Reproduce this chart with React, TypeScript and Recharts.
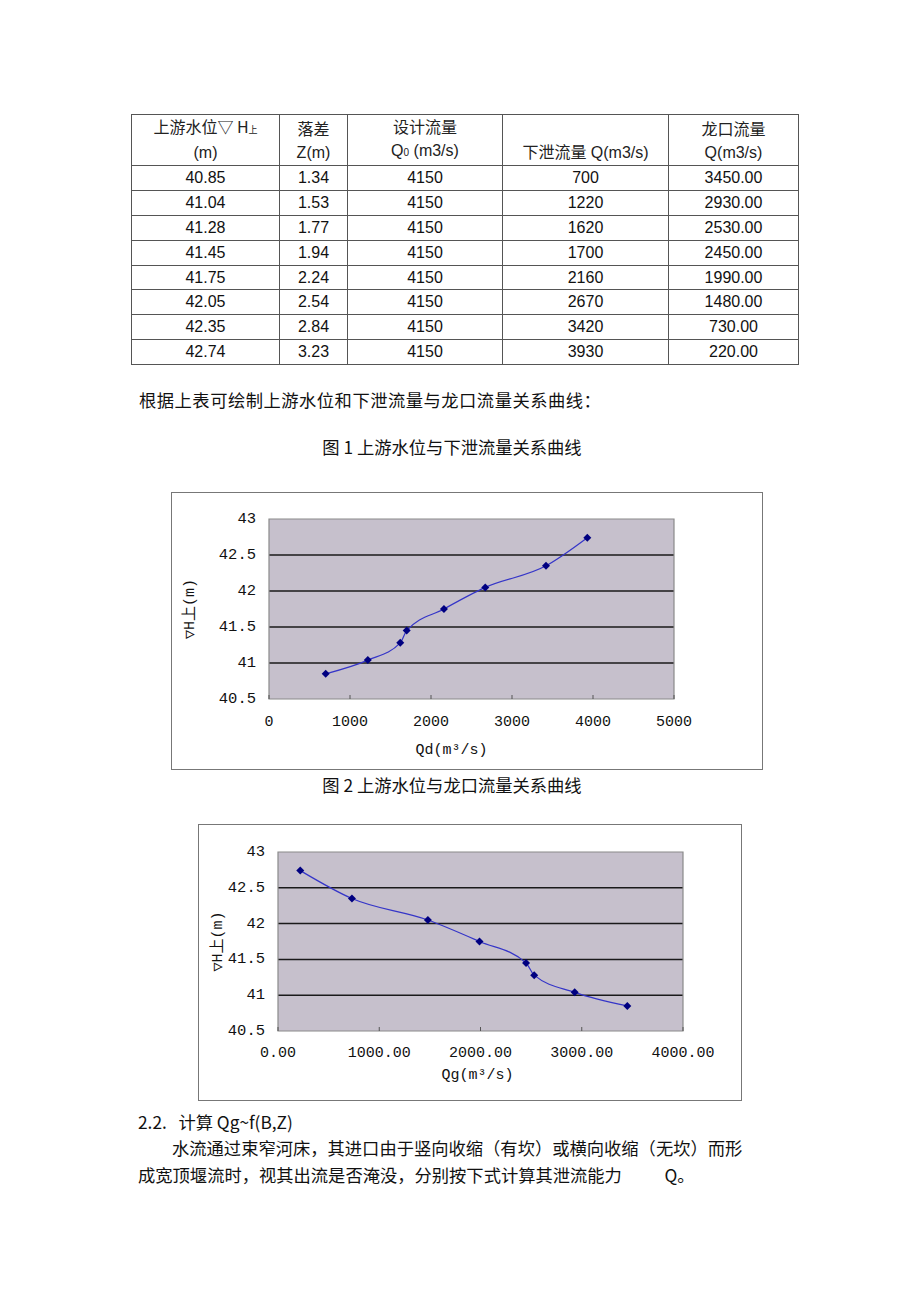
import { CartesianGrid, Label, Line, LineChart, ReferenceArea, XAxis, YAxis } from "recharts";

// 上游水位 ∇H上 (m)
const levels = [40.85, 41.04, 41.28, 41.45, 41.75, 42.05, 42.35, 42.74];
// 落差 Z (m)
const heads = [1.34, 1.53, 1.77, 1.94, 2.24, 2.54, 2.84, 3.23];
// 设计流量 Q0 (m3/s)
const designFlow = [4150, 4150, 4150, 4150, 4150, 4150, 4150, 4150];
// 下泄流量 Qd (m3/s)
const dischargeFlow = [700, 1220, 1620, 1700, 2160, 2670, 3420, 3930];
// 龙口流量 Qg (m3/s)
const gapFlow = [3450, 2930, 2530, 2450, 1990, 1480, 730, 220];

const levelTicks = [40.5, 41, 41.5, 42, 42.5, 43];
const innerLevelLines = [41, 41.5, 42, 42.5];
const qdTicks = [0, 1000, 2000, 3000, 4000, 5000];
const qgTicks = [0, 1000, 2000, 3000, 4000];

const cjk = "'Noto Sans CJK SC', sans-serif";
const sans = "'Liberation Sans', Arial, 'Noto Sans CJK SC', sans-serif";
const mono = "'Liberation Mono', 'DejaVu Sans Mono', 'Noto Sans CJK SC', monospace";

const plotFill = "#c6c0cc";
const gridColor = "#1a1a1a";
const borderColor = "#8a8a8a";

const qdData = dischargeFlow
	.map((q, i) => ({ q, h: levels[i] }))
	.sort((a, b) => a.q - b.q);
const qgData = gapFlow
	.map((q, i) => ({ q, h: levels[i] }))
	.sort((a, b) => a.q - b.q);

const Diamond = (props: any) => {
	const { cx, cy, index } = props;
	if (cx == null || cy == null) return <g key={index} />;
	const r = 4;
	return (
		<polygon
			key={index}
			points={`${cx},${cy - r} ${cx + r},${cy} ${cx},${cy + r} ${cx - r},${cy}`}
			fill="#000080"
		/>
	);
};

const makeBottomTick = (gap: number, fmt: (v: number) => string) => (props: any) => {
	const { x, y, payload } = props;
	return (
		<g>
			<line x1={x} x2={x} y1={y - gap} y2={y - gap - 4} stroke="#555" />
			<text
				x={x}
				y={y}
				textAnchor="middle"
				dominantBaseline="central"
				fontSize={15}
				fontFamily={mono}
				fill="#111"
			>
				{fmt(payload.value)}
			</text>
		</g>
	);
};

const LeftTick = (props: any) => {
	const { x, y, payload } = props;
	return (
		<text
			x={x}
			y={y}
			textAnchor="end"
			dominantBaseline="central"
			fontSize={15.5}
			fontFamily={mono}
			fill="#111"
		>
			{String(payload.value)}
		</text>
	);
};

const yTitle = (dx: number) => (props: any) => {
	const vb = props.viewBox;
	const x = vb.x + dx;
	const y = vb.y + vb.height / 2;
	return (
		<text
			x={x}
			y={y}
			transform={`rotate(-90, ${x}, ${y})`}
			textAnchor="middle"
			dominantBaseline="central"
			fontSize={15}
			fontFamily={mono}
			fill="#111"
		>
			▽H上(m)
		</text>
	);
};

const xTitle = (text: string, dx: number, dy: number) => (props: any) => {
	const vb = props.viewBox;
	return (
		<text
			x={vb.x + vb.width / 2 + dx}
			y={vb.y + dy}
			textAnchor="middle"
			dominantBaseline="central"
			fontSize={15}
			fontFamily={mono}
			fill="#111"
		>
			{text}
		</text>
	);
};

const headerCell: React.CSSProperties = {
	border: "1px solid #555",
	verticalAlign: "bottom",
	textAlign: "center",
	lineHeight: "23px",
	padding: 0,
	paddingBottom: 1,
	fontSize: 16,
	fontFamily: sans,
	fontWeight: "normal",
	color: "#222",
};

const bodyCell: React.CSSProperties = {
	border: "1px solid #555",
	textAlign: "center",
	height: 23.9,
	padding: 0,
	fontSize: 16,
	fontFamily: sans,
	color: "#111",
};

const textLine = (top: number, left: number, content: React.ReactNode, extra: React.CSSProperties = {}) => (
	<div
		style={{
			position: "absolute",
			top,
			left,
			fontSize: 17.3,
			lineHeight: "20px",
			fontFamily: cjk,
			color: "#111",
			whiteSpace: "pre",
			...extra,
		}}
	>
		{content}
	</div>
);

export default function App() {
	return (
		<div style={{ position: "absolute", left: 0, top: 0, width: 920, height: 1303, background: "#fff" }}>
			<table
				style={{
					position: "absolute",
					left: 131,
					top: 114,
					borderCollapse: "collapse",
					tableLayout: "fixed",
					width: 667,
				}}
			>
				<colgroup>
					<col style={{ width: 148 }} />
					<col style={{ width: 68 }} />
					<col style={{ width: 155 }} />
					<col style={{ width: 166 }} />
					<col style={{ width: 130 }} />
				</colgroup>
				<thead>
					<tr style={{ height: 46 }}>
						<th style={headerCell}>
							<span style={{ fontFamily: cjk }}>上游水位▽ H</span>
							<span style={{ fontFamily: cjk, fontSize: 9 }}>上</span>
							<br />
							(m)
						</th>
						<th style={headerCell}>
							<span style={{ fontFamily: cjk }}>落差</span>
							<br />
							Z(m)
						</th>
						<th style={headerCell}>
							<span style={{ fontFamily: cjk }}>设计流量</span>
							<br />
							Q<span style={{ fontSize: 10 }}>0</span>
							{"  (m3/s)"}
						</th>
						<th style={headerCell}>
							<span style={{ fontFamily: cjk }}>下泄流量</span> Q(m3/s)
						</th>
						<th style={headerCell}>
							<span style={{ fontFamily: cjk }}>龙口流量</span>
							<br />
							Q(m3/s)
						</th>
					</tr>
				</thead>
				<tbody>
					{levels.map((h, i) => (
						<tr key={i}>
							<td style={bodyCell}>{h.toFixed(2)}</td>
							<td style={bodyCell}>{heads[i].toFixed(2)}</td>
							<td style={bodyCell}>{designFlow[i]}</td>
							<td style={bodyCell}>{dischargeFlow[i]}</td>
							<td style={bodyCell}>{gapFlow[i].toFixed(2)}</td>
						</tr>
					))}
				</tbody>
			</table>

			{textLine(390, 139, "根据上表可绘制上游水位和下泄流量与龙口流量关系曲线：", { letterSpacing: 0.5 })}
			{textLine(437, 252, "图 1 上游水位与下泄流量关系曲线", { width: 400, textAlign: "center" })}

			<div
				style={{
					position: "absolute",
					left: 171,
					top: 492,
					width: 590,
					height: 276,
					border: "1px solid #777",
				}}
			>
				<LineChart width={590} height={276} data={qdData} margin={{ top: 26, right: 88, left: 0, bottom: 0 }}>
					<CartesianGrid
						vertical={false}
						horizontalValues={innerLevelLines}
						stroke={gridColor}
						strokeWidth={1.5}
						fill={plotFill}
						fillOpacity={1}
					/>
					<XAxis
						type="number"
						dataKey="q"
						domain={[0, 5000]}
						ticks={qdTicks}
						height={70}
						axisLine={false}
						tickLine={false}
						tickSize={0}
						tickMargin={23}
						tick={makeBottomTick(23, (v) => String(v))}
					>
						<Label content={xTitle("Qd(m³/s)", -20, 51)} />
					</XAxis>
					<YAxis
						type="number"
						dataKey="h"
						domain={[40.5, 43]}
						ticks={levelTicks}
						width={97}
						axisLine={false}
						tickLine={false}
						tickSize={0}
						tickMargin={13}
						tick={LeftTick}
					>
						<Label content={yTitle(18)} />
					</YAxis>
					<ReferenceArea x1={0} x2={5000} y1={40.5} y2={43} fill="none" stroke={borderColor} strokeWidth={1.2} />
					<Line
						type="monotone"
						dataKey="h"
						stroke="#3535c8"
						strokeWidth={1.2}
						dot={Diamond}
						activeDot={false}
						isAnimationActive={false}
					/>
				</LineChart>
			</div>

			{textLine(775, 252, "图 2 上游水位与龙口流量关系曲线", { width: 400, textAlign: "center" })}

			<div
				style={{
					position: "absolute",
					left: 198,
					top: 824,
					width: 542,
					height: 275,
					border: "1px solid #777",
				}}
			>
				<LineChart width={542} height={275} data={qgData} margin={{ top: 27, right: 58, left: 0, bottom: 0 }}>
					<CartesianGrid
						vertical={false}
						horizontalValues={innerLevelLines}
						stroke={gridColor}
						strokeWidth={1.5}
						fill={plotFill}
						fillOpacity={1}
					/>
					<XAxis
						type="number"
						dataKey="q"
						domain={[0, 4000]}
						ticks={qgTicks}
						height={69}
						axisLine={false}
						tickLine={false}
						tickSize={0}
						tickMargin={22}
						tick={makeBottomTick(22, (v) => v.toFixed(2))}
					>
						<Label content={xTitle("Qg(m³/s)", -3, 44)} />
					</XAxis>
					<YAxis
						type="number"
						dataKey="h"
						domain={[40.5, 43]}
						ticks={levelTicks}
						width={79}
						axisLine={false}
						tickLine={false}
						tickSize={0}
						tickMargin={13}
						tick={LeftTick}
					>
						<Label content={yTitle(19)} />
					</YAxis>
					<ReferenceArea x1={0} x2={4000} y1={40.5} y2={43} fill="none" stroke={borderColor} strokeWidth={1.2} />
					<Line
						type="monotone"
						dataKey="h"
						stroke="#3535c8"
						strokeWidth={1.2}
						dot={Diamond}
						activeDot={false}
						isAnimationActive={false}
					/>
				</LineChart>
			</div>

			{textLine(1112, 138, "2.2.   计算 Qg~f(B,Z)")}
			{textLine(1138, 172, "水流通过束窄河床，其进口由于竖向收缩（有坎）或横向收缩（无坎）而形")}
			{textLine(1165, 138, "成宽顶堰流时，视其出流是否淹没，分别按下式计算其泄流能力           Q。")}
		</div>
	);
}
